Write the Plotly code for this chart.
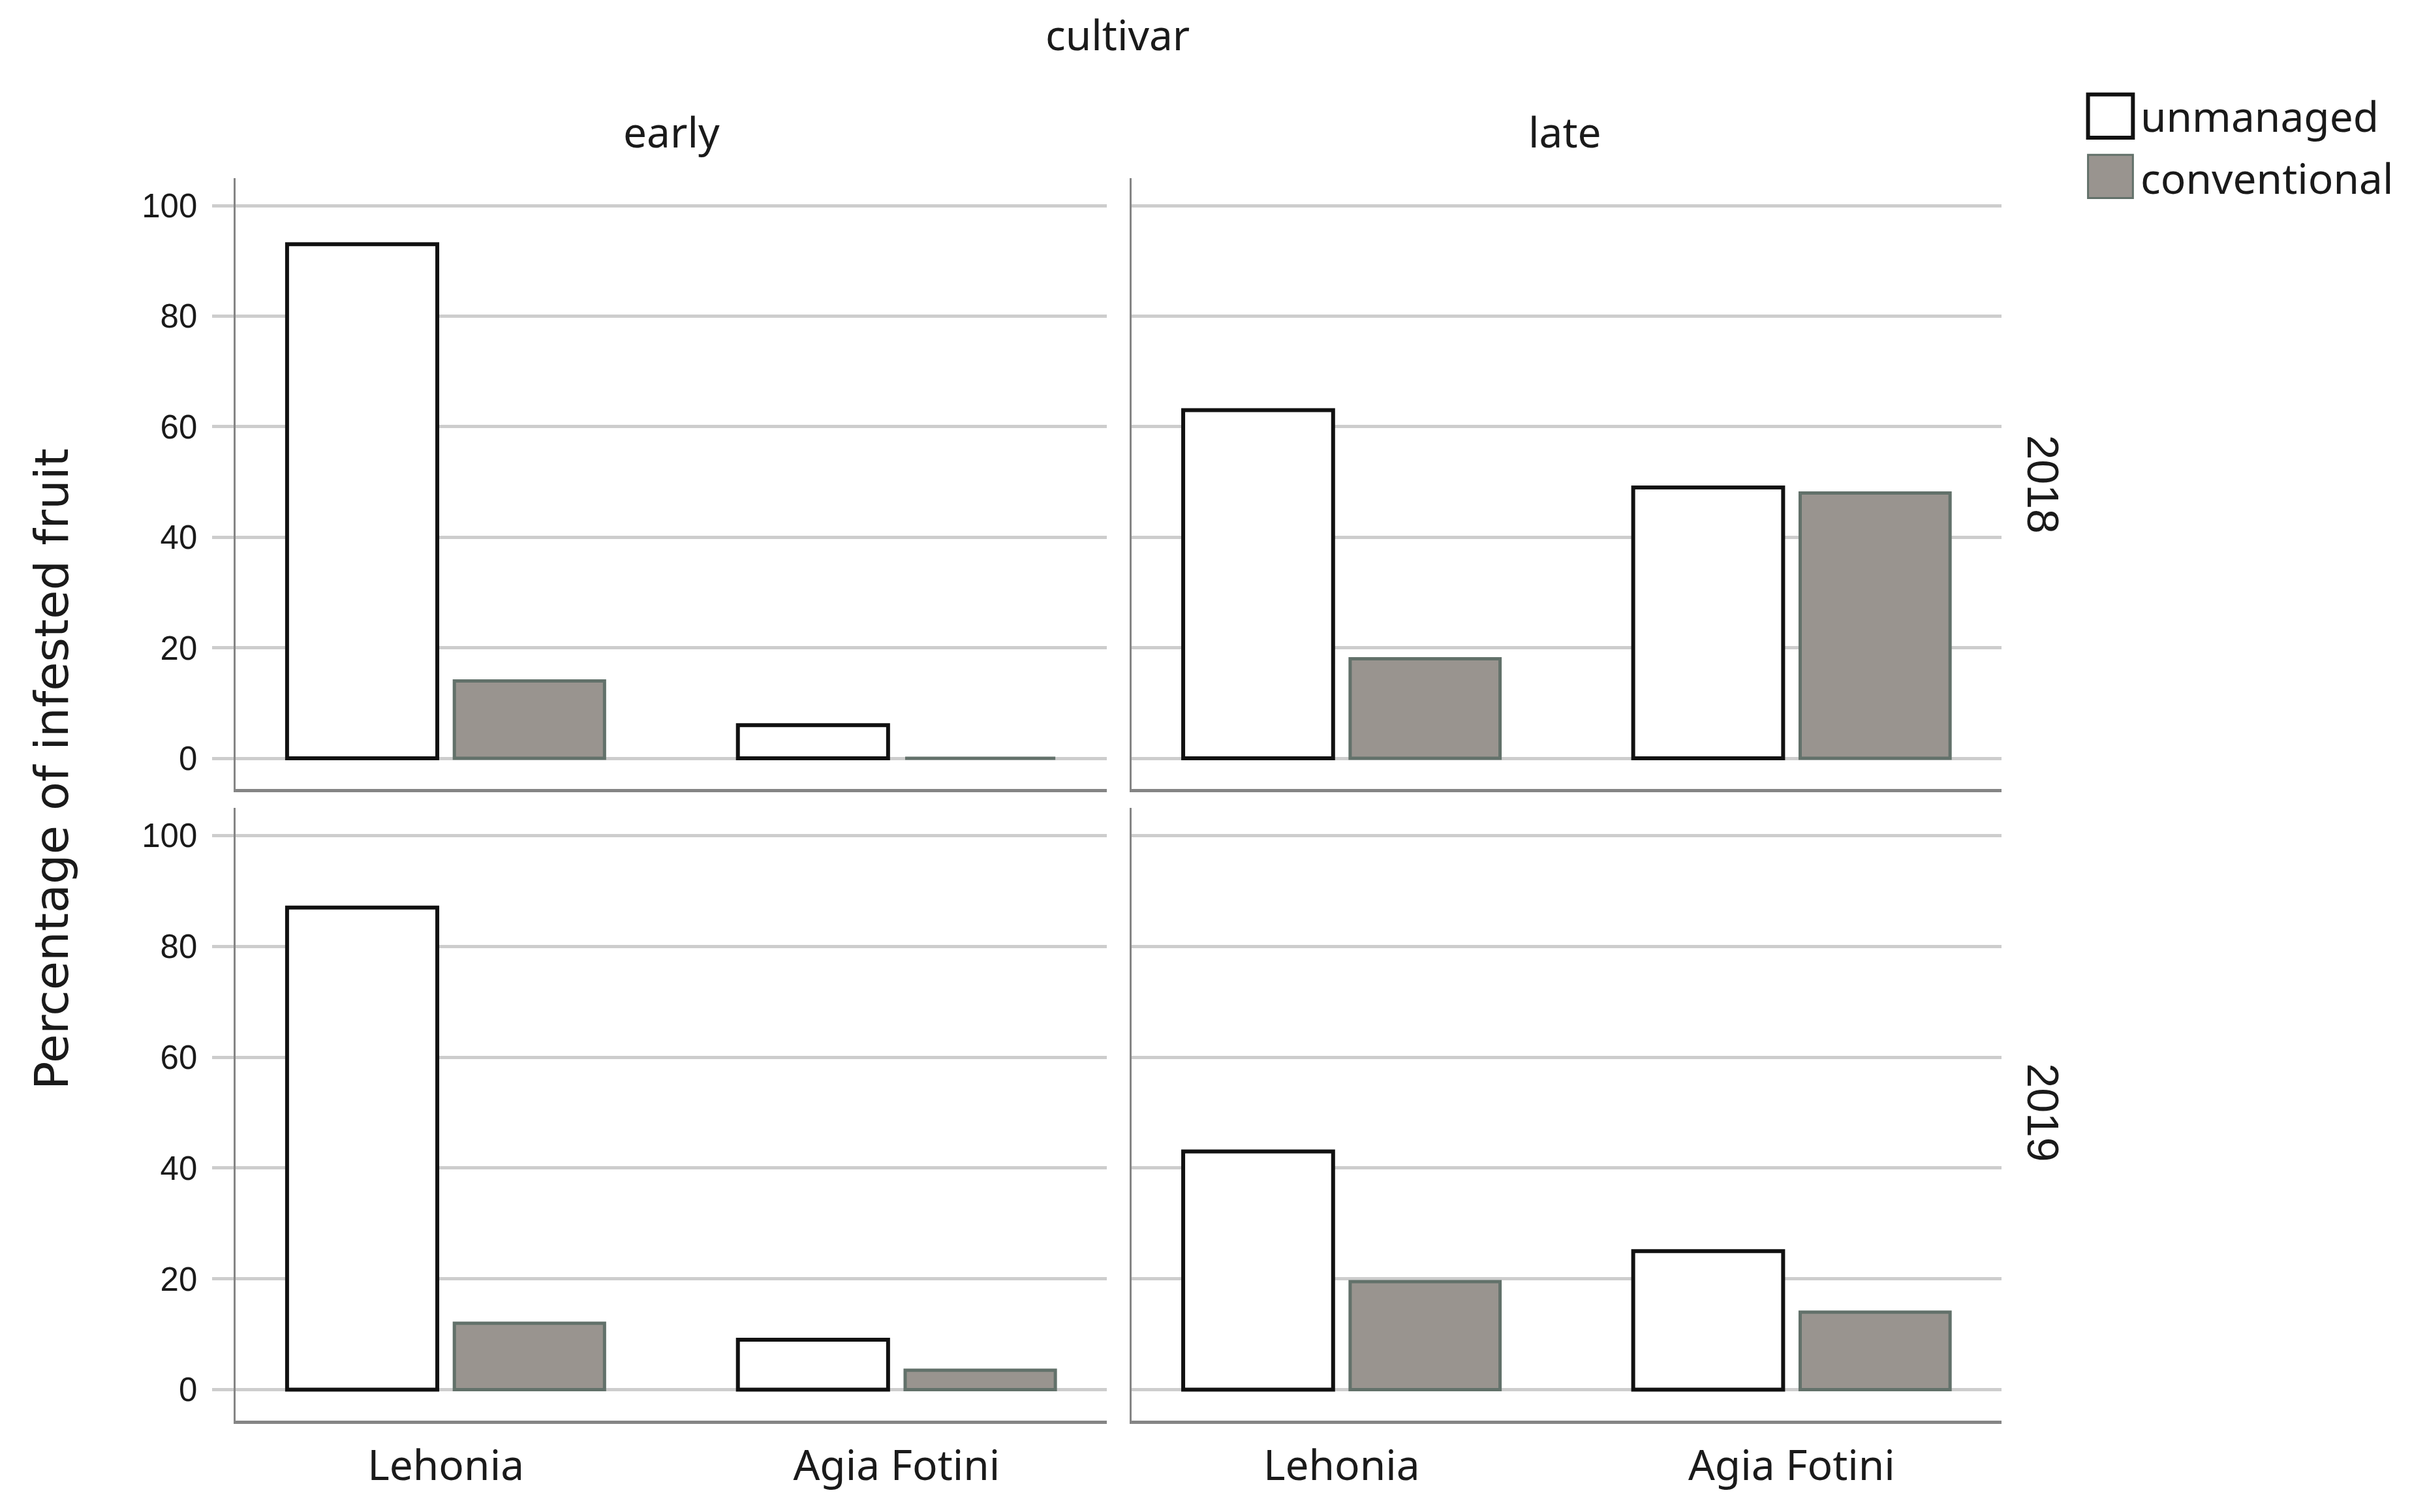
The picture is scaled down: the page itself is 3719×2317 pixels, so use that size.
import plotly.graph_objects as go

# ---------------- data ----------------
sites = ["Lehonia", "Agia Fotini"]
cultivars = ["early", "late"]
years = ["2018", "2019"]
series_names = ["unmanaged", "conventional"]

unmanaged_2018_early = [93, 6]
conventional_2018_early = [14, 0]
unmanaged_2018_late = [63, 49]
conventional_2018_late = [18, 48]
unmanaged_2019_early = [87, 9]
conventional_2019_early = [12, 3.5]
unmanaged_2019_late = [43, 25]
conventional_2019_late = [19.5, 14]

y_tick_vals = [0, 20, 40, 60, 80, 100]
y_title = "Percentage of infested fruit"
facet_col_title = "cultivar"

panel_data = {
    ("2018", "early"): (unmanaged_2018_early, conventional_2018_early),
    ("2018", "late"): (unmanaged_2018_late, conventional_2018_late),
    ("2019", "early"): (unmanaged_2019_early, conventional_2019_early),
    ("2019", "late"): (unmanaged_2019_late, conventional_2019_late),
}

# ---------------- style ----------------
W, H = 3719, 2317
DW, DH = 1568.0, 977.0  # scale at which the reference was measured


def fx(px):
    return px / DW


def fy(py):
    return 1 - py / DH


col_domains = [[fx(152), fx(715)], [fx(731), fx(1293)]]
row_domains = [[fy(510), fy(115)], [fy(918), fy(522)]]

UNM_FILL = "#ffffff"
UNM_LINE = "#111111"
CONV_FILL = "#99948f"
CONV_LINE = "#62716a"
GRID = "#cdcdcd"
AXIS = "#858585"
TXT = "#1a1a1a"
LABEL_FONT = "Noto Sans"
NUM_FONT = "Liberation Sans"

fig = go.Figure()

layout_axes = {}
idx = 0
for r, yr in enumerate(years):
    for c, cv in enumerate(cultivars):
        idx += 1
        sfx = "" if idx == 1 else str(idx)
        unm, conv = panel_data[(yr, cv)]
        fig.add_trace(go.Bar(
            x=sites, y=unm, name=series_names[0],
            xaxis="x" + sfx, yaxis="y" + sfx,
            marker=dict(color=UNM_FILL, line=dict(color=UNM_LINE, width=6)),
            offsetgroup="a", showlegend=False,
        ))
        fig.add_trace(go.Bar(
            x=sites, y=conv, name=series_names[1],
            xaxis="x" + sfx, yaxis="y" + sfx,
            marker=dict(color=CONV_FILL, line=dict(color=CONV_LINE, width=5)),
            offsetgroup="b", showlegend=False,
        ))
        bottom = (r == 1)
        left = (c == 0)
        layout_axes["xaxis" + sfx] = dict(
            domain=col_domains[c], anchor="y" + sfx,
            type="category", categoryorder="array", categoryarray=sites,
            range=[-0.467, 1.466],
            showgrid=False, zeroline=False,
            showline=True, linecolor=AXIS, linewidth=5,
            ticks="", showticklabels=bottom,
            tickfont=dict(family=LABEL_FONT, size=64, color=TXT),
            ticklabelstandoff=9,
            fixedrange=True,
        )
        layout_axes["yaxis" + sfx] = dict(
            domain=row_domains[r], anchor="x" + sfx,
            range=[-5.6, 105],
            tickvals=y_tick_vals,
            showgrid=True, gridcolor=GRID, gridwidth=5,
            zeroline=False,
            showline=True, linecolor=AXIS, linewidth=3,
            ticks="outside" if left else "", ticklen=33, tickwidth=5, tickcolor=GRID,
            showticklabels=left,
            tickfont=dict(family=NUM_FONT, size=51, color=TXT),
            ticklabelstandoff=12,
            fixedrange=True,
        )


def ann(text, x, y, size, family=LABEL_FONT, angle=0, xanchor="center"):
    return dict(text=text, x=fx(x), y=fy(y), xref="paper", yref="paper",
                xanchor=xanchor, yanchor="middle", showarrow=False,
                textangle=angle, font=dict(family=family, size=size, color=TXT))


annotations = [
    ann(facet_col_title, 722, 22, 64),
    ann(cultivars[0], 434, 85, 64),
    ann(cultivars[1], 1011, 85, 64),
    ann(years[0], 1320, 313, 68, family=NUM_FONT, angle=90),
    ann(years[1], 1320, 719, 68, family=NUM_FONT, angle=90),
    ann(y_title, 33, 497, 72, family="DejaVu Sans", angle=-90),
    ann(series_names[0], 1382, 75, 64, xanchor="left"),
    ann(series_names[1], 1382, 115, 64, xanchor="left"),
]

shapes = [
    dict(type="rect", xref="paper", yref="paper",
         x0=fx(1349), x1=fx(1378), y0=fy(89), y1=fy(61),
         fillcolor=UNM_FILL, line=dict(color=UNM_LINE, width=6)),
    dict(type="rect", xref="paper", yref="paper",
         x0=fx(1349), x1=fx(1378), y0=fy(128), y1=fy(100),
         fillcolor=CONV_FILL, line=dict(color=CONV_LINE, width=3)),
]

fig.update_layout(
    width=W, height=H,
    margin=dict(l=0, r=0, t=0, b=0),
    paper_bgcolor="white", plot_bgcolor="white",
    barmode="group", bargap=0.258, bargroupgap=0.102,
    showlegend=False,
    annotations=annotations, shapes=shapes,
    **layout_axes,
)

fig.write_html(
    "out.html",
    config={"displayModeBar": False},
    post_script="document.body.style.margin='0';document.body.style.overflow='hidden';",
)
